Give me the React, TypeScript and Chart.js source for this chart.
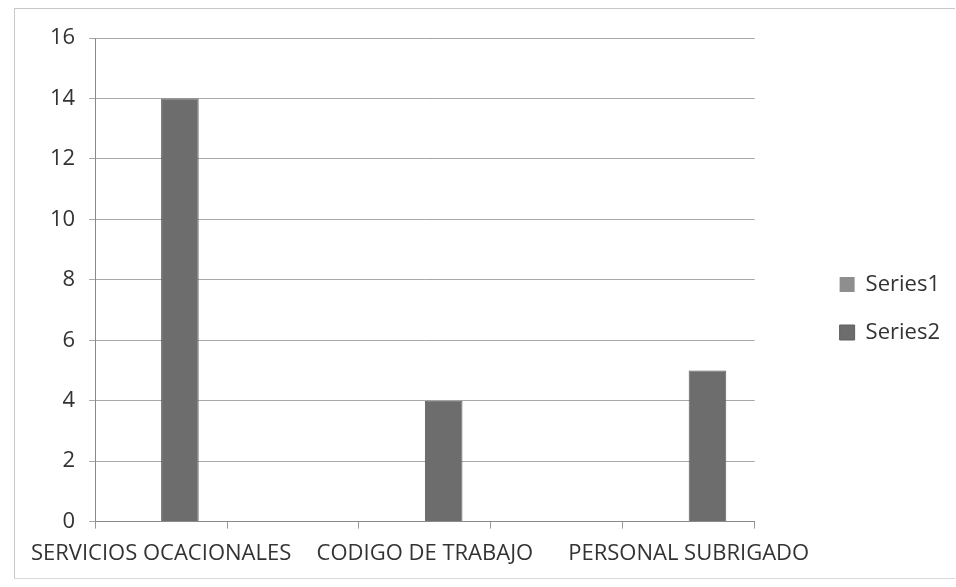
import React, { useEffect, useRef } from "react";
import { Chart, registerables } from "chart.js";

Chart.register(...registerables);

const categories = ["SERVICIOS OCACIONALES", "", "CODIGO DE TRABAJO", "", "PERSONAL SUBRIGADO"];
const series1 = [0, 0, 0, 0, 0];
const series2 = [14, 0, 4, 0, 5];
const yTicks = [0, 2, 4, 6, 8, 10, 12, 14, 16];

const FONT = "'Open Sans', sans-serif";

export default function App() {
  const ref = useRef<HTMLCanvasElement | null>(null);
  useEffect(() => {
    if (!ref.current) return;
    const chart = new Chart(ref.current, {
      type: "bar",
      data: {
        labels: categories,
        datasets: [
          {
            label: "Series1",
            data: series1,
            backgroundColor: "#8e8e8e",
            borderColor: "#7a7a7a",
            borderWidth: 0,
            categoryPercentage: 0.57,
            barPercentage: 1,
          },
          {
            label: "Series2",
            data: series2,
            backgroundColor: "#6d6d6d",
            borderColor: "#5e5e5e",
            borderWidth: 1,
            categoryPercentage: 0.57,
            barPercentage: 1,
          },
        ],
      },
      options: {
        animation: false,
        responsive: false,
        maintainAspectRatio: false,
        layout: { padding: { left: 36, right: 6, top: 38, bottom: 8 } },
        plugins: {
          tooltip: { enabled: false },
          legend: {
            position: "right",
            align: "center",
            labels: {
              font: { family: FONT, size: 22 },
              color: "#333",
              boxWidth: 15,
              boxHeight: 15,
              padding: 26,
            },
          },
        },
        scales: {
          x: {
            offset: true,
            grid: {
              offset: true,
              drawOnChartArea: false,
              drawTicks: true,
              tickLength: 7,
              color: "#9a9a9a",
            },
            border: { display: true, color: "#8a8a8a", width: 1 },
            ticks: {
              autoSkip: false,
              maxRotation: 0,
              minRotation: 0,
              font: { family: FONT, size: 22 },
              color: "#333",
              padding: 12,
            },
          },
          y: {
            min: 0,
            max: 16,
            afterBuildTicks: (axis: any) => {
              axis.ticks = yTicks.map((v) => ({ value: v }));
            },
            grid: {
              color: "#a8a8a8",
              lineWidth: 1,
              drawTicks: true,
              tickLength: 6,
            },
            border: { display: true, color: "#8a8a8a", width: 1 },
            ticks: {
              font: { family: FONT, size: 22 },
              color: "#333",
              padding: 14,
            },
          },
          gap: {
            position: "right",
            display: true,
            grid: { display: false, drawTicks: false },
            border: { display: false },
            ticks: { display: false },
            afterFit: (axis: any) => {
              axis.width = 59;
            },
          },
        },
      },
    });
    return () => chart.destroy();
  }, []);
  return (
    <div style={{ position: "fixed", left: 0, top: 0, width: 956, height: 587, background: "#fff" }}>
      <div
        style={{
          position: "absolute",
          left: 14,
          top: 8,
          width: 940,
          height: 569,
          borderLeft: "1px solid #c8c8c8",
          borderTop: "1px solid #c8c8c8",
          borderBottom: "1px solid #d8d8d8",
        }}
      />
      <canvas ref={ref} width={956} height={587} style={{ position: "absolute", left: 0, top: 0 }} />
    </div>
  );
}
